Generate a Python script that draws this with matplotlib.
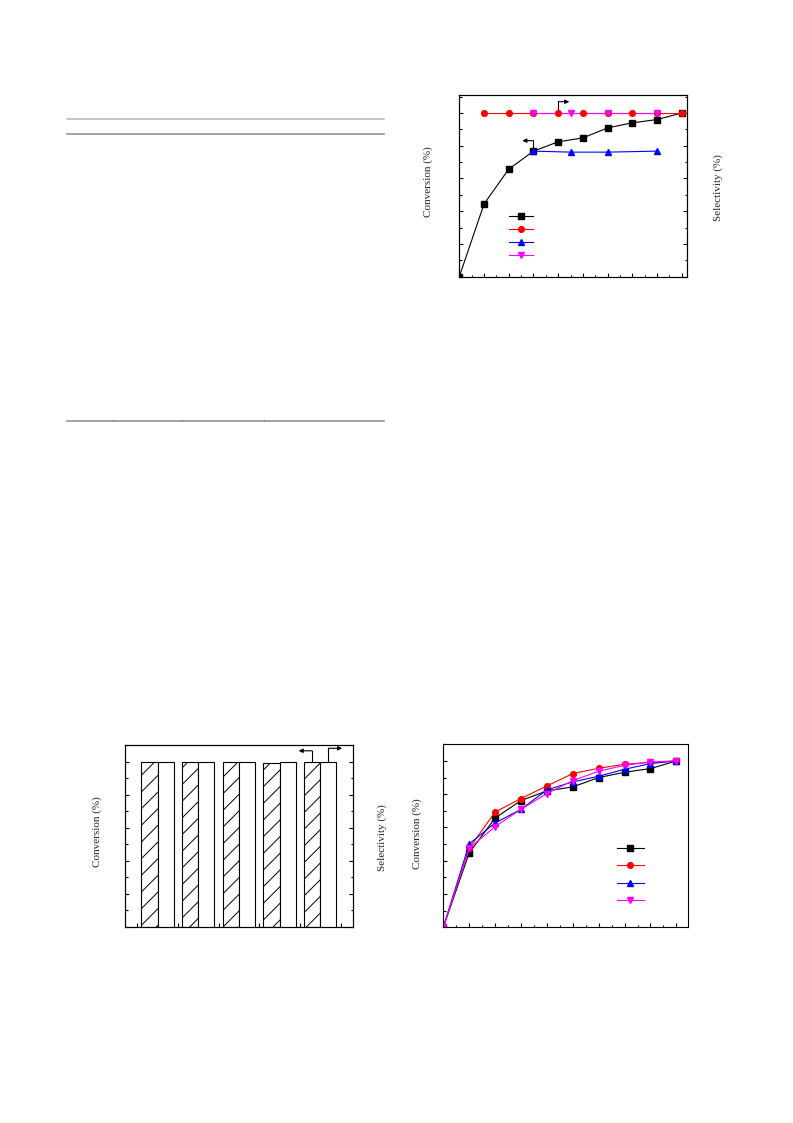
import matplotlib
matplotlib.use('Agg')
import matplotlib.pyplot as plt
from matplotlib.lines import Line2D
from matplotlib.ticker import MultipleLocator, FixedLocator

plt.rcParams['font.family'] = ['Liberation Serif', 'DejaVu Serif']
plt.rcParams['hatch.linewidth'] = 0.7
plt.rcParams['hatch.color'] = '#4a4a4a'

# ---------------- data ----------------
# top-right chart
tr_x = [0, 1, 2, 3, 4, 5, 6, 7, 8, 9]
tr_black = [0, 44.4, 65.7, 76.7, 82.4, 84.8, 90.9, 94.0, 96.0, 100.0]
tr_red_x = [1, 2, 3, 4, 5, 6, 7, 8, 9]
tr_red = [100, 100, 100, 100, 100, 100, 100, 100, 100]
tr_blue_x = [3, 4.5, 6, 8]
tr_blue = [76.7, 76.1, 76.1, 76.7]
tr_mag_x = [3, 4.5, 6, 8]
tr_mag = [100, 100, 100, 100]

# bottom-left bar chart
bl_groups = [1, 2, 3, 4, 5]
bl_conv = [100, 100, 100, 99.4, 100]
bl_sel = [100, 100, 100, 100, 100]

# bottom-right chart
br_x = [0, 1, 2, 3, 4, 5, 6, 7, 8, 9]
br_black = [0, 44.7, 65.7, 76.2, 82.0, 84.4, 90.0, 93.2, 95.4, 100]
br_red = [0, 47.5, 69.3, 77.4, 85.0, 92.4, 95.6, 98.0, 99.2, 100]
br_blue = [0, 50.1, 62.7, 70.9, 82.6, 87.4, 90.8, 95.0, 98.4, 100]
br_mag = [0, 47.5, 60.5, 70.9, 80.4, 88.2, 93.8, 97.4, 99.4, 100]

FS = 8
LW = 0.8
MS = 3.8

fig = plt.figure(figsize=(7.93, 11.23), dpi=100)
W, H = 793.0, 1123.0


def fax(l, t, r, b):
    return fig.add_axes([l / W, 1 - b / H, (r - l) / W, (b - t) / H])


def style(ax, left=True, right=False):
    for s in ax.spines.values():
        s.set_linewidth(LW)
    ax.tick_params(which='both', direction='in', width=LW, labelleft=False,
                   labelbottom=False, labelright=False, labeltop=False,
                   left=left, right=right, top=False, bottom=True)
    ax.tick_params(which='major', length=3)
    ax.tick_params(which='minor', length=1.8)


def style_twin(ax2):
    ax2.tick_params(which='both', direction='in', width=LW, labelright=False,
                    left=False, right=True)
    ax2.tick_params(which='major', length=3)
    ax2.tick_params(which='minor', length=1.8)


arrow_kw = dict(arrowstyle='-|>', color='k', lw=LW, mutation_scale=6,
                shrinkA=0, shrinkB=0)

# ---------------- table rules ----------------
fig.add_artist(Line2D([66.7 / W, 384 / W], [1 - 119 / H, 1 - 119 / H],
                      color='#b5b5b5', lw=1.1))
fig.add_artist(Line2D([66.7 / W, 384 / W], [1 - 133.7 / H, 1 - 133.7 / H],
                      color='#8a8a8a', lw=1.1))
fig.add_artist(Line2D([66.7 / W, 384 / W], [1 - 421 / H, 1 - 421 / H],
                      color='#8a8a8a', lw=1.1))
for xt in (113, 182, 264):
    fig.add_artist(Line2D([xt / W, xt / W], [1 - 421 / H, 1 - 419.5 / H],
                          color='#8a8a8a', lw=0.8))

# ---------------- top-right chart ----------------
ax = fax(459.3, 95, 686.7, 276.7)
ax.set_xlim(0, 9.2)
ax.set_ylim(0, 111)
ax.xaxis.set_major_locator(MultipleLocator(1))
ax.xaxis.set_minor_locator(MultipleLocator(0.5))
ax.yaxis.set_major_locator(MultipleLocator(20))
ax.yaxis.set_minor_locator(MultipleLocator(10))
style(ax)
ax2 = ax.twinx()
ax2.set_ylim(0, 111)
ax2.yaxis.set_major_locator(MultipleLocator(20))
ax2.yaxis.set_minor_locator(MultipleLocator(10))
style_twin(ax2)

ax.plot(tr_x, tr_black, color='k', lw=LW, marker='s', ms=MS, zorder=3)
ax.plot(tr_blue_x, tr_blue, color='blue', lw=LW, marker='^', ms=MS + 0.4, zorder=4)
ax2.plot(tr_red_x, tr_red, color='red', lw=LW, zorder=2)
ax2.plot(tr_mag_x, tr_mag, color='magenta', lw=LW, zorder=3)
ax2.plot(tr_red_x, tr_red, color='red', ls='none', marker='o', ms=MS + 0.3, zorder=4)
ax2.plot(tr_mag_x, tr_mag, color='magenta', ls='none', marker='v', ms=MS + 0.4, zorder=5)

# arrows
ax.plot([3, 3], [77, 83.1], color='k', lw=LW)
ax.annotate('', xy=(2.55, 83.1), xytext=(3, 83.1), arrowprops=arrow_kw)
ax2.plot([4, 4], [100, 106.9], color='k', lw=LW)
ax2.annotate('', xy=(4.45, 106.9), xytext=(4, 106.9), arrowprops=arrow_kw)

h_tr = [Line2D([], [], color='k', lw=LW, marker='s', ms=MS),
        Line2D([], [], color='red', lw=LW, marker='o', ms=MS + 0.3),
        Line2D([], [], color='blue', lw=LW, marker='^', ms=MS + 0.4),
        Line2D([], [], color='magenta', lw=LW, marker='v', ms=MS + 0.4)]
ax2.legend(h_tr, [''] * 4, loc='center left', bbox_to_anchor=(0.2186, 0.223),
           frameon=False, fontsize=FS, handlelength=2.16, labelspacing=0.29,
           borderpad=0, borderaxespad=0, handletextpad=0.3)

fig.text(428 / W, 1 - 182 / H, 'Conversion (%)', rotation=90, ha='center',
         va='center', fontsize=FS, color='#222222')
fig.text(718 / W, 1 - 188 / H, 'Selectivity (%)', rotation=90, ha='center',
         va='center', fontsize=FS, color='#222222')

# ---------------- bottom-left bar chart ----------------
bx = fax(125, 745, 352.7, 926.7)
bx.set_xlim(0.2, 5.8)
bx.set_ylim(0, 110)
bx.xaxis.set_major_locator(FixedLocator([0.5, 1.5, 2.5, 3.5, 4.5, 5.5]))
bx.xaxis.set_minor_locator(FixedLocator([1, 2, 3, 4, 5]))
bx.yaxis.set_major_locator(MultipleLocator(20))
bx.yaxis.set_minor_locator(MultipleLocator(10))
style(bx)
bx2 = bx.twinx()
bx2.set_ylim(0, 110)
bx2.yaxis.set_major_locator(MultipleLocator(20))
bx2.yaxis.set_minor_locator(MultipleLocator(10))
style_twin(bx2)

bx.bar(bl_groups, bl_conv, width=0.4, align='edge', color='white',
       edgecolor='k', lw=LW, hatch='//')
# shift hatched bars to the left of each group position
for p in bx.patches:
    p.set_x(p.get_x() - 0.4)
bx2.bar(bl_groups, bl_sel, width=0.4, align='edge', color='white',
        edgecolor='k', lw=LW)

bx.plot([4.8, 4.8], [bl_conv[4], 106.5], color='k', lw=LW)
bx.annotate('', xy=(4.47, 106.5), xytext=(4.8, 106.5), arrowprops=arrow_kw)
bx2.plot([5.2, 5.2], [bl_sel[4], 108], color='k', lw=LW)
bx2.annotate('', xy=(5.54, 108), xytext=(5.2, 108), arrowprops=arrow_kw)

fig.text(96.7 / W, 1 - 832 / H, 'Conversion (%)', rotation=90, ha='center',
         va='center', fontsize=FS, color='#222222')
fig.text(381.7 / W, 1 - 838 / H, 'Selectivity (%)', rotation=90, ha='center',
         va='center', fontsize=FS, color='#222222')

# ---------------- bottom-right chart ----------------
cx = fax(443.3, 744.3, 688.3, 927.3)
cx.set_xlim(0, 9.46)
cx.set_ylim(0, 110)
cx.xaxis.set_major_locator(MultipleLocator(1))
cx.xaxis.set_minor_locator(MultipleLocator(0.5))
cx.yaxis.set_major_locator(MultipleLocator(20))
cx.yaxis.set_minor_locator(MultipleLocator(10))
style(cx)
cx.plot(br_x, br_black, color='k', lw=LW, marker='s', ms=MS)
cx.plot(br_x, br_red, color='red', lw=LW, marker='o', ms=MS + 0.3)
cx.plot(br_x, br_blue, color='blue', lw=LW, marker='^', ms=MS + 0.4)
cx.plot(br_x, br_mag, color='magenta', lw=LW, marker='v', ms=MS + 0.4)
cx.legend(cx.get_lines(), [''] * 4, loc='center left',
          bbox_to_anchor=(0.708, 0.285), frameon=False, fontsize=FS,
          handlelength=2.46, labelspacing=0.7, borderpad=0, borderaxespad=0,
          handletextpad=0.3)
fig.text(416.7 / W, 1 - 833.3 / H, 'Conversion (%)', rotation=90, ha='center',
         va='center', fontsize=FS, color='#222222')

fig.savefig('out.png', dpi=100)
